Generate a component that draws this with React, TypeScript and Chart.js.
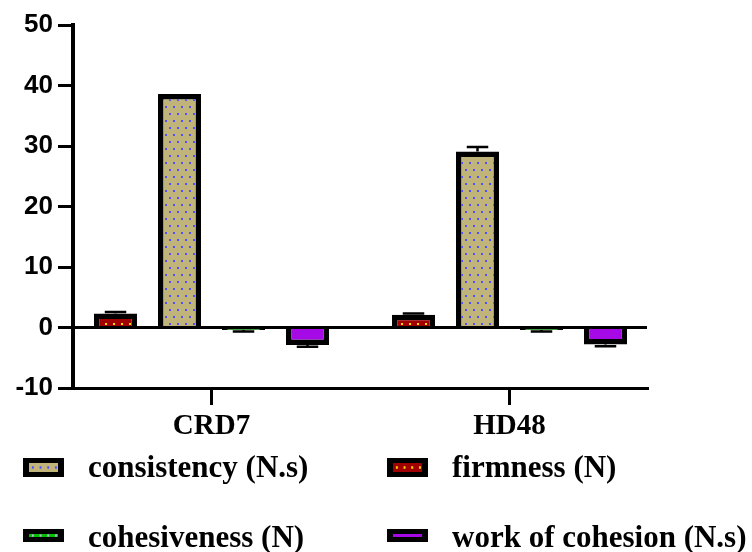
import React, { useEffect, useRef } from 'react';
import { Chart, registerables } from 'chart.js';

Chart.register(...registerables);

// ---- data ----
const categories = ['CRD7', 'HD48'];
const seriesNames = ['firmness (N)', 'consistency (N.s)', 'cohesiveness (N)', 'work of cohesion (N.s)'];
const firmness = [2.3, 2.1];
const consistency = [38.6, 29.1];
const cohesiveness = [-0.4, -0.4];
const workOfCohesion = [-2.9, -2.8];
const firmnessErr = [0.25, 0.2];
const consistencyErr = [0, 0.75];
const cohesivenessErr = [0.25, 0.25];
const workOfCohesionErr = [0.3, 0.3];
const yMin = -10;
const yMax = 50;
const yStep = 10;
const legendOrder = [1, 0, 2, 3];

const seriesValues = [firmness, consistency, cohesiveness, workOfCohesion];
const seriesErrors = [firmnessErr, consistencyErr, cohesivenessErr, workOfCohesionErr];
const fillColors = ['#A00000', '#C0B47A', '#00C000', '#A50AE6'];
const dotColors: (string | null)[] = ['#FFE000', '#5050FF', '#B4B4D2', null];

function makePattern(bg: string, dot: string | null): any {
  if (!dot) return bg;
  const c = document.createElement('canvas');
  c.width = 8;
  c.height = 14;
  const g = c.getContext('2d')!;
  g.fillStyle = bg;
  g.fillRect(0, 0, 8, 14);
  g.fillStyle = dot;
  g.fillRect(1, 1, 2, 2);
  g.fillRect(5, 8, 2, 2);
  return g.createPattern(c, 'repeat');
}

const errorBarPlugin = {
  id: 'errorBars',
  afterDatasetsDraw(chart: any) {
    const ctx = chart.ctx;
    const y = chart.scales.y;
    chart.data.datasets.forEach((_ds: any, i: number) => {
      const meta = chart.getDatasetMeta(i);
      meta.data.forEach((bar: any, j: number) => {
        const v = seriesValues[i][j];
        const e = seriesErrors[i][j];
        if (!e) return;
        const end = y.getPixelForValue(v + Math.sign(v) * e);
        const half = bar.width / 4;
        ctx.save();
        ctx.strokeStyle = '#000';
        ctx.lineWidth = 2.5;
        ctx.beginPath();
        ctx.moveTo(bar.x, bar.y);
        ctx.lineTo(bar.x, end);
        ctx.moveTo(bar.x - half, end);
        ctx.lineTo(bar.x + half, end);
        ctx.stroke();
        ctx.restore();
      });
    });
  },
};

export default function App() {
  const ref = useRef<HTMLCanvasElement | null>(null);

  useEffect(() => {
    if (!ref.current) return;
    const datasets = seriesNames.map((name, i) => ({
      label: name,
      data: seriesValues[i].map((v, k) => ({ x: k, y: v })),
      backgroundColor: makePattern(fillColors[i], dotColors[i]),
      borderColor: '#000',
      borderWidth: 5.5,
      borderSkipped: 'start' as any,
      barPercentage: 0.672,
      categoryPercentage: 0.859,
    }));
    const chart = new Chart(ref.current, {
      type: 'bar',
      data: { datasets },
      options: {
        animation: false,
        responsive: false,
        maintainAspectRatio: false,
        layout: { padding: { left: 0, top: 25, right: 105, bottom: 104 } },
        plugins: { legend: { display: false }, tooltip: { enabled: false } },
        scales: {
          x: {
            type: 'linear',
            min: -0.4648,
            max: 1.4614,
            offset: false,
            afterBuildTicks: (scale: any) => {
              scale.ticks = categories.map((_c, i) => ({ value: i }));
            },
            afterFit: (scale: any) => {
              scale.height = 60;
            },
            ticks: {
              autoSkip: false,
              maxRotation: 0,
              padding: 4,
              color: '#000',
              font: { family: 'Liberation Serif', weight: 'bold', size: 29 },
              callback: (v: any) => categories[v] ?? '',
            },
            grid: {
              offset: false,
              drawOnChartArea: false,
              drawTicks: true,
              tickLength: 17,
              tickWidth: 3,
              tickColor: '#000',
              color: '#000',
              lineWidth: 3,
            },
            border: { display: true, color: '#000', width: 3 },
          },
          y: {
            type: 'linear',
            min: yMin,
            max: yMax,
            z: 1,
            afterFit: (scale: any) => {
              scale.width = 73;
            },
            ticks: {
              stepSize: yStep,
              padding: 5,
              color: '#000',
              font: { family: 'Liberation Sans', weight: 'bold', size: 26 },
            },
            grid: {
              drawOnChartArea: true,
              drawTicks: true,
              tickLength: 15,
              tickWidth: 3,
              tickColor: '#000',
              lineWidth: 3,
              color: (ctx: any) => (ctx.tick && ctx.tick.value === 0 ? '#000' : 'rgba(0,0,0,0)'),
            },
            border: { display: true, color: '#000', width: 4 },
          },
        },
      } as any,
      plugins: [errorBarPlugin],
    });
    return () => chart.destroy();
  }, []);

  const colX = [23, 387];
  const boxTop = [458, 529];
  const boxH = [19, 13];
  const textTop = [451, 521];

  return (
    <div style={{ position: 'fixed', left: 0, top: 0, width: 752, height: 552, background: '#fff', overflow: 'hidden' }}>
      <canvas ref={ref} width={752} height={552} style={{ position: 'absolute', left: 0, top: 0, width: 752, height: 552 }} />
      {legendOrder.map((si, k) => {
        const row = Math.floor(k / 2);
        const col = k % 2;
        const dot = dotColors[si];
        const innerH = boxH[row] - 10;
        return (
          <React.Fragment key={si}>
            <div
              style={{
                position: 'absolute',
                left: colX[col],
                top: boxTop[row],
                width: 41,
                height: boxH[row],
                boxSizing: 'border-box',
                borderStyle: 'solid',
                borderColor: '#000',
                borderWidth: '5px 6px',
                backgroundColor: fillColors[si],
                backgroundImage: dot ? `radial-gradient(circle, ${dot} 1px, rgba(0,0,0,0) 1.4px)` : 'none',
                backgroundSize: `7.7px ${Math.max(innerH, 2)}px`,
                backgroundPosition: '0px 0px',
              }}
            />
            <span
              style={{
                position: 'absolute',
                left: colX[col] + 65,
                top: textTop[row],
                fontFamily: 'Liberation Serif',
                fontWeight: 'bold',
                fontSize: 31,
                lineHeight: '31px',
                whiteSpace: 'nowrap',
                color: '#000',
              }}
            >
              {seriesNames[si]}
            </span>
          </React.Fragment>
        );
      })}
    </div>
  );
}
